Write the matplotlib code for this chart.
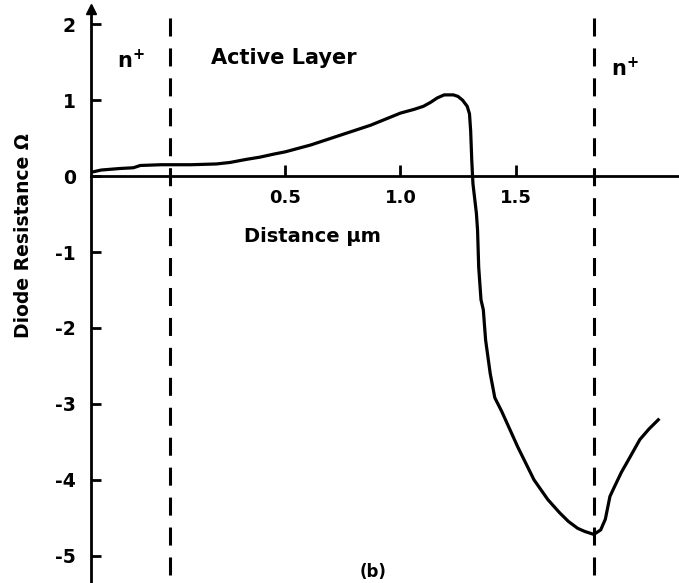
import matplotlib
matplotlib.use("Agg")
import matplotlib.pyplot as plt

# Data
distance_um = [-0.344, -0.30, -0.22, -0.16, -0.13, -0.04, 0.09, 0.20, 0.26, 0.33, 0.39, 0.45,
               0.50, 0.61, 0.74, 0.87, 1.00, 1.06, 1.10, 1.13, 1.16, 1.19, 1.23, 1.25,
               1.27, 1.29, 1.30, 1.305, 1.31, 1.315, 1.33, 1.335, 1.34, 1.35, 1.36, 1.37,
               1.39, 1.41, 1.44, 1.51, 1.58, 1.64, 1.69, 1.73, 1.77, 1.80, 1.84, 1.87, 1.89,
               1.91, 1.93, 1.96, 1.99, 2.04, 2.08, 2.12]
resistance = [0.05, 0.08, 0.10, 0.11, 0.14, 0.15, 0.15, 0.16, 0.18, 0.22, 0.25, 0.29,
              0.32, 0.41, 0.54, 0.67, 0.83, 0.88, 0.92, 0.97, 1.03, 1.07, 1.07, 1.05,
              1.00, 0.92, 0.82, 0.60, 0.20, -0.10, -0.49, -0.71, -1.20,
              -1.63, -1.76, -2.16, -2.60, -2.92, -3.10, -3.57, -4.00, -4.26, -4.43, -4.55, -4.64,
              -4.68, -4.72, -4.66, -4.52, -4.22, -4.09, -3.90, -3.74, -3.47, -3.33, -3.21]
boundaries = [0.0, 1.84]
x_ticks = [0.5, 1.0, 1.5]
x_tick_labels = ["0.5", "1.0", "1.5"]
y_ticks = [2, 1, 0, -1, -2, -3, -4, -5]
y_tick_labels = ["2", "1", "0", "-1", "-2", "-3", "-4", "-5"]

W, H = 679, 583
fig = plt.figure(figsize=(W / 100, H / 100), dpi=100)
left = 91 / W
ax = fig.add_axes([left, 0, 1 - left, 1])
ax.set_xlim(-0.344, 2.21)
ax.set_ylim(-5.36, 2.32)

lw = 2.0
for s in ["top", "right"]:
    ax.spines[s].set_visible(False)
ax.spines["bottom"].set_position(("data", 0))
ax.spines["bottom"].set_linewidth(lw)
ax.spines["left"].set_linewidth(lw)
ax.spines["left"].set_bounds(-5.36, 2.16)
ax.plot([-0.344], [2.2], marker="^", color="black", markersize=7, clip_on=False)

ax.set_xticks(x_ticks)
ax.set_xticklabels(x_tick_labels, fontweight="bold")
ax.set_yticks(y_ticks)
ax.set_yticklabels(y_tick_labels, fontweight="bold")
ax.tick_params(axis="x", direction="in", length=8, width=lw, labelsize=13, pad=9)
ax.tick_params(axis="y", direction="in", length=7, width=lw, labelsize=13.5, pad=11)

for b in boundaries:
    ax.plot([b, b], [-5.25, 2.15], color="black", lw=2.2, linestyle=(0, (5.9, 3.9)))

ax.plot(distance_um, resistance, color="black", lw=2.3, solid_joinstyle="round")

fw = "bold"
fig.text(24 / W, 1 - 236 / H, "Diode Resistance Ω", rotation=90, ha="center", va="center",
         fontsize=13.5, fontweight=fw)
fig.text(312 / W, 1 - 237 / H, "Distance µm", ha="center", va="center", fontsize=14, fontweight=fw)
fig.text(284 / W, 1 - 58 / H, "Active Layer", ha="center", va="center", fontsize=15, fontweight=fw)
fig.text(131 / W, 1 - 60 / H, "n$^{\\mathbf{+}}$", ha="center", va="center", fontsize=15, fontweight=fw)
fig.text(625 / W, 1 - 68 / H, "n$^{\\mathbf{+}}$", ha="center", va="center", fontsize=15, fontweight=fw)
fig.text(373 / W, 1 - 572 / H, "(b)", ha="center", va="center", fontsize=12, fontweight=fw)

fig.savefig("out.png", dpi=100, facecolor="white")
